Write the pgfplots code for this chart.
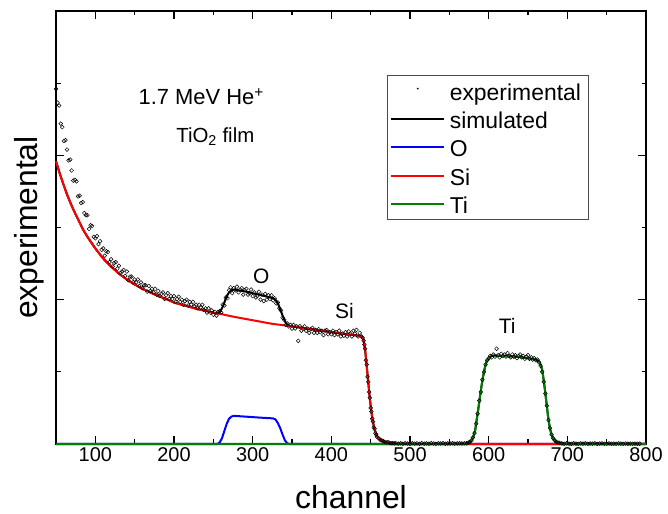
\documentclass[border=0pt]{standalone}
\usepackage{fontspec}
\setmainfont{Liberation Sans}
\usepackage{pgfplots}
\pgfplotsset{compat=1.18}
\definecolor{sired}{RGB}{255,0,0}
\definecolor{oblue}{RGB}{0,0,255}
\definecolor{tigreen}{RGB}{0,128,0}
\begin{document}
\begin{tikzpicture}
\useasboundingbox (-56bp,-70bp) rectangle (612bp,444bp);
\begin{axis}[
  at={(0,0)}, anchor=south west,
  width=590bp, height=433bp, scale only axis,
  xmin=50, xmax=800, ymin=0, ymax=6,
  xtick={100,200,300,400,500,600,700,800},
  minor xtick={50,150,250,350,450,550,650,750},
  ytick={0,2,4,6}, minor ytick={1,3,5},
  yticklabels={},
  tick pos=both, tick align=inside,
  major tick length=8bp, minor tick length=4.5bp,
  every tick/.style={black, line width=1.1bp},
  axis line style={black, line width=1.3bp},
  /pgf/number format/assume math mode=true,
  xticklabel style={font=\fontsize{20}{24}\selectfont},
  xlabel={channel}, ylabel={experimental},
  xlabel style={font=\fontsize{32}{38}\selectfont, at={(axis description cs:0.5,0)}, anchor=center, yshift=-53bp},
  ylabel style={font=\fontsize{32}{38}\selectfont, at={(axis description cs:-0.046,0.5)}, anchor=center},
  clip=false,
  legend style={at={(0.561,0.852)}, anchor=north west, draw=black!70, line width=0.6bp,
    font=\fontsize{23}{27}\selectfont, inner xsep=3bp, inner ysep=4bp,
    nodes={inner xsep=4.5bp, inner ysep=1bp, text height=20bp, text depth=0.5bp},
    row sep=5.8bp, cells={anchor=west}},
  legend image code/.code={\draw[#1] (0bp,0bp) -- (53bp,0bp);},
]
% experimental
\addplot[only marks, mark=o, mark size=1.9bp, black, mark options={line width=0.5bp},
  legend image code/.code={\draw[black, line width=0.4bp] plot[mark=o, mark size=0.7bp] coordinates {(26.5bp,2bp)};}]
coordinates {
(50,4.92)(52,4.73)(54,4.69)(56,4.44)(58,4.39)(60,4.20)(62,4.21)(64,4.08)(66,3.93)(68,3.94)
(70,3.79)(72,3.65)(74,3.66)(76,3.64)(78,3.43)(80,3.44)(82,3.34)(84,3.35)(86,3.20)(88,3.17)
(90,3.17)(92,2.98)(94,3.03)(96,3.02)(98,2.87)(100,2.85)
(102,2.88)(104,2.77)(106,2.81)(108,2.69)(110,2.71)(112,2.61)(114,2.67)(116,2.66)(118,2.52)(120,2.56)
(122,2.46)(124,2.51)(126,2.52)(128,2.43)(130,2.47)(132,2.37)(134,2.39)(136,2.41)(138,2.33)(140,2.39)
(142,2.27)(144,2.32)(146,2.32)(148,2.24)(150,2.28)
(152,2.24)(154,2.28)(156,2.19)(158,2.24)(160,2.16)(162,2.20)(164,2.20)(166,2.11)(168,2.19)(170,2.12)
(172,2.15)(174,2.10)(176,2.15)(178,2.07)(180,2.12)(182,2.05)(184,2.08)(186,2.10)(188,2.01)(190,2.06)
(192,2.09)(194,2.01)(196,2.05)(198,2.01)(200,2.05)(202,1.97)(204,2.01)(206,2.04)(208,1.97)(210,2.00)
(212,1.93)(214,1.98)(216,2.00)(218,1.92)(220,1.97)(222,1.93)(224,1.97)(226,1.91)(228,1.93)(230,1.88)
(232,1.93)(234,1.89)(236,1.93)(238,1.86)(240,1.88)(242,1.82)(244,1.88)(246,1.82)(248,1.85)(250,1.79)
(252,1.83)(254,1.78)(256,1.83)
(258,1.84)(260,1.82)(262,1.93)(264,1.92)(266,2.03)(268,2.02)(270,2.13)(272,2.17)(274,2.09)(276,2.16)
(278,2.13)(280,2.18)(282,2.10)(284,2.14)(286,2.16)(288,2.07)(290,2.13)(292,2.15)(294,2.07)(296,2.09)
(298,2.14)(300,2.05)(302,2.10)(304,2.03)(306,2.05)(308,2.11)(310,2.00)(312,2.07)(314,1.98)(316,2.08)
(318,2.00)(320,2.06)(322,2.01)(324,2.06)(326,1.99)(328,2.02)(330,1.95)(332,1.96)(334,1.88)(336,1.85)
(338,1.75)(340,1.72)(342,1.65)(344,1.67)(346,1.63)
(348,1.65)(350,1.60)(352,1.65)(354,1.60)(356,1.63)(358,1.43)(360,1.63)(362,1.57)(364,1.60)(366,1.63)
(368,1.57)(370,1.60)(372,1.54)(374,1.59)(376,1.61)(378,1.54)(380,1.58)(382,1.54)(384,1.59)(386,1.55)
(388,1.57)(390,1.51)(392,1.57)(394,1.58)(396,1.52)(398,1.55)(400,1.52)(402,1.57)(404,1.51)(406,1.55)
(408,1.52)(410,1.57)(412,1.49)(414,1.53)(416,1.50)(418,1.55)(420,1.49)(422,1.56)(424,1.53)(426,1.49)
(428,1.57)(430,1.53)(432,1.58)(434,1.49)(436,1.54)(438,1.49)
(440,1.47)(441,1.43)(442,1.38)(443,1.32)(444,1.16)(445,1.10)(446,0.93)(447,0.86)(448,0.72)(449,0.64)
(450,0.50)(451,0.45)(452,0.35)(453,0.31)(454,0.23)(455,0.21)(456,0.15)(457,0.13)(458,0.10)(460,0.08)
(462,0.06)(464,0.05)(466,0.04)(468,0.03)(470,0.02)(472,0.025)(474,0.015)(476,0.01)(478,0.012)(480,0.008)
(482,0.012)(485,0.006)(488,0.010)(491,0.004)(494,0.013)(497,0.007)(500,0.003)(503,0.011)(506,0.006)(509,0.009)
(512,0.002)(515,0.012)(518,0.005)(521,0.008)(524,0.004)(527,0.011)(530,0.006)(533,0.003)(536,0.010)(539,0.007)
(542,0.012)(545,0.004)(548,0.009)(551,0.006)(554,0.013)(557,0.005)(560,0.009)(563,0.011)(566,0.007)(569,0.010)
(572,0.01)(574,0.02)(576,0.03)(578,0.05)(580,0.09)(582,0.15)(584,0.28)(586,0.42)(588,0.60)(590,0.72)
(592,0.89)(594,1.00)(596,1.10)(598,1.16)(600,1.19)(602,1.22)(604,1.20)(606,1.24)(608,1.21)(610,1.32)
(612,1.23)(614,1.20)(616,1.25)(618,1.22)(620,1.24)(622,1.21)(624,1.26)(626,1.22)(628,1.20)(630,1.24)
(632,1.21)(634,1.23)(636,1.19)(638,1.22)(640,1.24)(642,1.20)(644,1.22)(646,1.18)(648,1.21)(650,1.23)
(652,1.18)(654,1.20)(656,1.17)(658,1.19)(660,1.16)(662,1.17)(664,1.13)(666,1.08)(668,1.00)(670,0.86)
(672,0.70)(674,0.53)(676,0.33)(678,0.22)(680,0.13)(682,0.08)(684,0.05)(686,0.03)(688,0.02)(690,0.015)
(693,0.008)(696,0.004)(699,0.010)(702,0.005)(705,0.003)(708,0.009)(711,0.006)(714,0.002)(717,0.008)(720,0.005)
(723,0.010)(726,0.003)(729,0.007)(732,0.004)(735,0.009)(738,0.002)(741,0.006)(744,0.008)(747,0.003)(750,0.005)
(753,0.009)(756,0.004)(759,0.006)(762,0.002)(765,0.008)(768,0.005)(771,0.003)(774,0.007)(777,0.004)(780,0.006)
(783,0.002)(786,0.005)(789,0.003)(792,0.004)
};
\addlegendentry{experimental}
% simulated
\addplot[black, line width=2bp, line join=round] coordinates {
(50,3.92)(55,3.74)(60,3.58)(65,3.43)(70,3.30)(75,3.18)(80,3.07)(85,2.96)(90,2.87)(95,2.79)
(100,2.71)(110,2.57)(120,2.46)(130,2.36)(140,2.28)(150,2.21)(160,2.15)(170,2.10)(180,2.05)(190,2.01)
(200,1.96)(210,1.93)(220,1.90)(230,1.87)(240,1.845)(250,1.82)(255,1.81)(258,1.83)(261,1.88)(264,1.96)
(267,2.05)(270,2.10)(273,2.13)(276,2.14)(290,2.115)(310,2.065)(326,2.02)(329,2.00)(332,1.95)(335,1.87)
(338,1.78)(341,1.70)(344,1.655)(347,1.635)(350,1.63)(375,1.59)(400,1.55)(420,1.52)(435,1.50)(439,1.49)
(441,1.44)(443,1.30)(445,1.08)(447,0.85)(449,0.62)(451,0.44)(453,0.30)(455,0.20)(458,0.11)(462,0.06)
(466,0.035)(471,0.018)(478,0.008)(485,0.004)(520,0.003)(560,0.004)(572,0.006)(576,0.025)(580,0.08)(583,0.2)
(585,0.35)(587,0.50)(589,0.66)(591,0.81)(593,0.94)(595,1.05)(597,1.13)(599,1.17)(601,1.20)(603,1.215)
(606,1.225)(620,1.22)(635,1.21)(649,1.19)(660,1.17)(664,1.15)(666,1.10)(668,1.03)(670,0.88)(672,0.71)
(674,0.52)(676,0.34)(678,0.21)(680,0.13)(682,0.08)(684,0.05)(687,0.02)(692,0.008)(700,0.004)(800,0.003)
};
\addlegendentry{simulated}
% O
\addplot[oblue, line width=2bp, line join=round] coordinates {
(50,0)(255,0)(258,0.02)(261,0.08)(264,0.18)(267,0.28)(270,0.35)(273,0.38)(276,0.39)(290,0.38)
(310,0.365)(326,0.355)(329,0.34)(332,0.29)(335,0.22)(338,0.13)(341,0.05)(344,0.01)(347,0)(800,0)
};
\addlegendentry{O}
% Si
\addplot[sired, line width=2bp, line join=round] coordinates {
(50,3.92)(55,3.74)(60,3.58)(65,3.43)(70,3.30)(75,3.18)(80,3.07)(85,2.96)(90,2.87)(95,2.79)
(100,2.71)(110,2.57)(120,2.46)(130,2.36)(140,2.28)(150,2.21)(160,2.15)(170,2.10)(180,2.05)(190,2.01)
(200,1.96)(210,1.93)(220,1.90)(230,1.87)(240,1.845)(250,1.82)(260,1.80)(275,1.765)(300,1.715)(325,1.665)
(347,1.635)(350,1.63)(375,1.59)(400,1.55)(420,1.52)(435,1.50)(439,1.49)
(441,1.44)(443,1.30)(445,1.08)(447,0.85)(449,0.62)(451,0.44)(453,0.30)(455,0.20)(458,0.11)(462,0.06)
(466,0.035)(471,0.018)(478,0.005)(482,0)(800,0)
};
\addlegendentry{Si}
% Ti
\addplot[tigreen, line width=2bp, line join=round] coordinates {
(50,0)(572,0)(576,0.02)(580,0.08)(583,0.2)(585,0.35)(587,0.50)(589,0.66)(591,0.81)(593,0.94)
(595,1.05)(597,1.13)(599,1.17)(601,1.20)(603,1.215)(606,1.225)(620,1.22)(635,1.21)(649,1.19)(660,1.17)
(664,1.15)(666,1.10)(668,1.03)(670,0.88)(672,0.71)(674,0.52)(676,0.34)(678,0.21)(680,0.13)(682,0.08)
(684,0.05)(687,0.02)(692,0.005)(695,0)(800,0)
};
\addlegendentry{Ti}
\node[font=\fontsize{22}{26}\selectfont] at (axis cs:234.6,4.815) {1.7 MeV He\textsuperscript{+}};
\node[font=\fontsize{20.5}{24}\selectfont] at (axis cs:252.5,4.26) {TiO\textsubscript{2} film};
\node[font=\fontsize{21}{25}\selectfont] at (axis cs:311,2.33) {O};
\node[font=\fontsize{21}{25}\selectfont] at (axis cs:416.7,1.84) {Si};
\node[font=\fontsize{21}{25}\selectfont] at (axis cs:623.5,1.63) {Ti};
\end{axis}
\end{tikzpicture}
\end{document}
